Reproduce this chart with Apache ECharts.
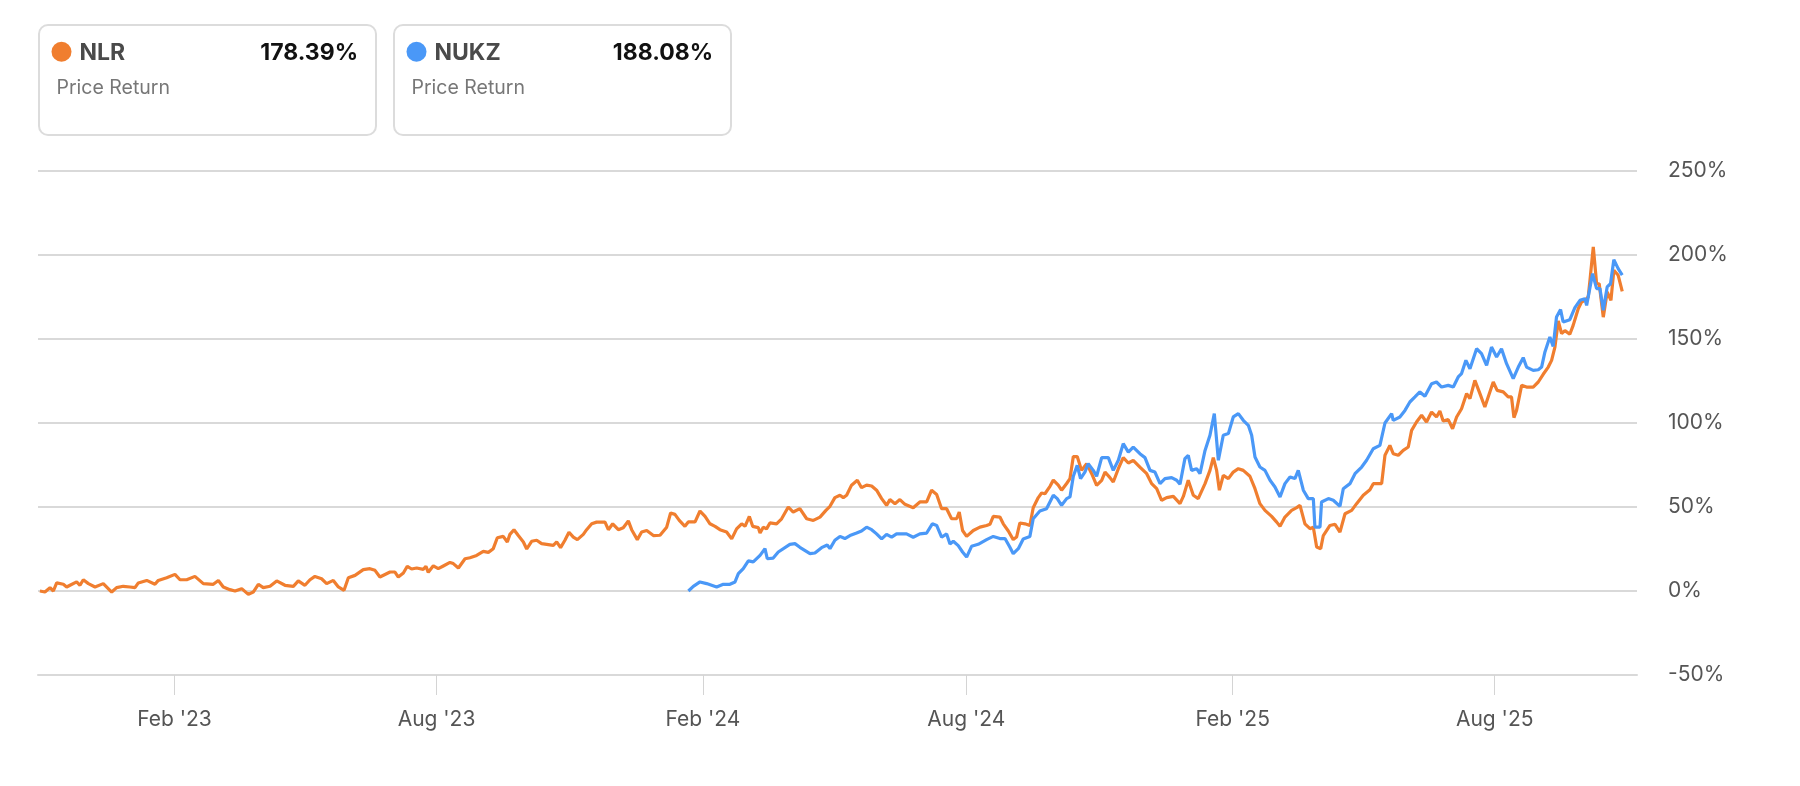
<!DOCTYPE html>
<html>
<head>
<meta charset="utf-8">
<script src="https://cdn.jsdelivr.net/npm/echarts@6/dist/echarts.min.js"></script>
<style>
  html, body { margin: 0; padding: 0; background: #ffffff; }
  #chart { width: 1800px; height: 786px; }
</style>
</head>
<body>
<div id="chart"></div>
<script>
// ---- data ----
const seriesNames = ['NLR', 'NUKZ'];
const seriesColors = ['#f07e2f', '#4a98f7'];
const finalReturns = ['178.39%', '188.08%'];
const subtitle = 'Price Return';

const dayZero = '2022-10-31';

const nlrDays = [
  0, 3.5, 7, 9.3, 11.6, 16.2, 18.5, 20.8, 25.4, 27.7,
  30, 33.5, 38.1, 43.8, 49.6, 53, 57.6, 62.2, 65.7, 68,
  73.8, 79.5, 81.8, 87.6, 93.3, 96.8, 101.4, 107.1, 112.9, 119.8,
  123.3, 126.7, 131.3, 134.8, 139.4, 144, 147.4, 150.9, 154.3, 159,
  163.6, 169.3, 175.1, 178.5, 183.1, 186.6, 190, 194.6, 198.1, 202.7,
  206.2, 210.1, 213.1, 217.7, 223.4, 228, 231.5, 234.9, 241.9, 245.3,
  247.6, 251.1, 253.8, 256.8, 260.3, 264.9, 266.7, 268.3, 271.8, 275.2,
  278.7, 283.3, 285.6, 289.1, 293.7, 297.1, 301.7, 306.3, 309.8, 313.2,
  316, 320.1, 322.9, 324.7, 327.5, 330.5, 334, 336.3, 339.7, 343.2,
  346.6, 350.1, 354.7, 357, 359.7, 362.7, 365.5, 368.5, 371.3, 375.4,
  377.7, 381.2, 384.6, 390.4, 392.7, 395.7, 399.6, 403, 406.5, 408.8,
  412.7, 415.7, 419.2, 423.8, 428.4, 433, 435.7, 438.7, 441.7, 445.6,
  447.9, 452.6, 456, 459.5, 462.9, 466.4, 469.8, 474.4, 477.9, 481.3,
  484.8, 487.1, 490.1, 492.4, 496.3, 497.5, 499.7, 502, 504.3, 508.9,
  512.4, 517, 520.4, 525, 529.7, 534.3, 538.9, 543, 545.8, 549.2,
  552.7, 555, 557.3, 560.7, 564.7, 567.6, 571.1, 574.6, 578, 581.5,
  584.9, 587.2, 590.7, 594.1, 597.6, 603.3, 607.9, 612.6, 616, 619.5,
  622.9, 626.4, 629.8, 633.3, 635.1, 637.4, 640.2, 644.8, 649.4, 654,
  656.3, 658.6, 663.2, 665.5, 669, 672.4, 674.7, 677, 680.5, 683.9,
  686.2, 689.7, 692, 694.3, 697.8, 700.1, 703.5, 705.8, 709.3, 711.6,
  713.9, 716.6, 719.6, 723.1, 726.6, 730, 733.5, 735.8, 739.2, 741.5,
  745, 748.4, 751.9, 755.3, 759.9, 764.6, 768, 771.5, 774.9, 778.4,
  783, 787.6, 789.9, 793.3, 796.8, 800.2, 804.9, 808.3, 810.6, 812.9,
  814.8, 817.5, 821, 824.4, 827.9, 831.3, 835.9, 839.4, 842.8, 846.3,
  850.9, 854.4, 856.7, 860.1, 864.7, 868.2, 870.5, 873.9, 877.4, 879.7,
  882, 884.8, 886.6, 891.2, 894.7, 898.1, 901.6, 906.2, 909.6, 914.2,
  918.8, 921.1, 926.9, 929.2, 932.6, 934.9, 938.4, 941.8, 945.3, 947.6,
  951, 954.5, 957.9, 961.4, 964.8, 967.1, 969.4, 972.9, 975.9, 978.7,
  982.1, 985.6, 987.9, 991.3, 994.8, 998.2, 1000.5, 1004, 1006.7, 1010.9,
  1014.3, 1016.6, 1018.3, 1020.1, 1023.6, 1027, 1031.6, 1035.1, 1038.5, 1042,
  1044.3, 1046.6, 1048.9, 1051.2, 1053.5, 1056.9, 1059.2, 1062.7, 1065, 1067.3,
  1069.6, 1070.8, 1073.1, 1075.4, 1077.2, 1080, 1082.7, 1085.3, 1087.3, 1090.3,
  1093.1
];
const nlrValues = [
  0, -0.6, 2, 0, 4.8, 4, 2.4, 3.4, 5.4, 3.4,
  6.7, 4.4, 2.4, 4.4, -0.6, 2, 2.8, 2.4, 2, 4.8,
  6.3, 4, 6.3, 7.9, 9.9, 6.7, 6.7, 8.7, 4.4, 4,
  6.3, 2.4, 0.8, 0, 1.4, -2, -0.6, 4, 2, 2.8,
  6, 3.4, 2.8, 6, 3.4, 6.7, 8.7, 7.3, 4.4, 6.3,
  2.4, 0.4, 7.9, 9.3, 12.7, 13.3, 12.3, 8.3, 11.3, 11.3,
  8.3, 10.7, 14.7, 13.1, 13.7, 12.9, 14.7, 11.1, 15, 13.3,
  14.9, 17, 16.3, 13.7, 19.2, 19.8, 21.2, 23.6, 23, 25.2,
  31.7, 32.5, 29.2, 33.7, 36.5, 33, 29.2, 25, 29.6, 30.2,
  28.2, 27.8, 27.2, 29.2, 25.8, 30.2, 35, 32.1, 30.6, 33.7,
  36.5, 40, 41, 41, 36.5, 40, 36.5, 37.7, 41.7, 36.5,
  30.6, 35.1, 36, 33, 33.2, 38, 46.4, 45.6, 42, 38.5,
  41.1, 41.1, 47.6, 44.4, 40, 38.5, 36.5, 35.1, 31, 37,
  40, 38.5, 44.4, 38.5, 37.7, 34.5, 38, 37, 40.5, 40,
  43, 50, 47, 49, 43, 42, 44, 48, 50.4, 55.6,
  57, 55.6, 57, 63, 65.9, 61.5, 63, 62.5, 60, 55,
  51, 54.4, 52, 54.4, 51.6, 49.6, 53, 53, 60, 57.5,
  49, 49, 43, 43, 47, 36, 32.5, 36, 38, 39,
  39.7, 44.4, 44, 40, 35.7, 30.6, 32.1, 40.5, 40, 39,
  49.6, 55.6, 58.3, 57.9, 62.3, 66, 63, 60, 64, 66.9,
  80, 80, 71.8, 75.8, 69.8, 62.9, 65.9, 70.8, 67.5, 64.9,
  72.8, 79.4, 76.2, 77.8, 73.8, 69.8, 63.9, 60.9, 54, 55.6,
  56.3, 52, 56.3, 65.9, 57, 55, 63.9, 71.8, 79.4, 71.8,
  60, 68.8, 66.9, 70.8, 72.8, 71.8, 68.3, 60.9, 52, 48,
  44.4, 41, 38.5, 44, 48, 49.6, 51, 40, 37.1, 38,
  26.2, 25.2, 33, 39, 39.7, 35, 46, 48, 52, 57,
  60.3, 63.9, 63.9, 80.8, 86.7, 81.7, 80.8, 83.7, 85.7, 95.6,
  100.6, 104.6, 100.6, 106.5, 103.6, 107.1, 101.2, 102, 96.6, 103.6,
  108.5, 117.5, 114.5, 125.4, 117.5, 109.5, 115.5, 124.4, 119.4, 118.5,
  115.5, 115.5, 103.2, 107.5, 122.4, 121.4, 121.4, 124.4, 129, 133.3,
  137.3, 145.2, 160.7, 153.2, 155, 152.8, 158.1, 168, 172, 173,
  175, 184.9, 204.8, 182.9, 182.9, 163, 178, 173, 190.9, 187.9,
  178.39
];

const nukzDays = [
  448, 451.4, 456, 460.6, 467.5, 472.1, 476.7, 480.2, 482.5, 485.9,
  489.4, 492.8, 497.5, 500.9, 502.5, 506.6, 510.1, 518.1, 521.6, 525,
  532, 535.4, 540, 543.9, 545.8, 549.2, 552.7, 556.1, 559.6, 564.2,
  567.6, 571.1, 574.6, 578, 581.5, 584.9, 588.4, 591.8, 598.7, 603.3,
  607.9, 612.6, 616.5, 619.5, 622.9, 626.4, 628.7, 631, 634.4, 637.4,
  640.2, 643.6, 648.2, 654, 658.6, 663.2, 666.7, 670.1, 672.4, 675.9,
  679.3, 683.9, 686.2, 690.8, 695.4, 700.1, 702.8, 705.8, 709.3, 711.6,
  713.9, 716.6, 718.9, 721.9, 724.2, 727.7, 730, 733.5, 738.1, 741.5,
  745, 748.4, 751.9, 755.3, 759.9, 763.4, 766.9, 770.3, 773.8, 777.2,
  781.8, 785.3, 787.6, 791, 793.3, 795.6, 799.1, 801.4, 804.9, 808.3,
  811.3, 814.1, 817.5, 821, 824.4, 827.9, 831.3, 834.8, 837.1, 839.4,
  842.8, 846.3, 849.8, 853.2, 856.7, 860.1, 863.6, 867, 869.3, 872.8,
  876.2, 879.7, 880.8, 884.3, 885.4, 890.1, 893.5, 898.1, 900.4, 905,
  908.5, 913.1, 916.5, 921.1, 925.7, 929.2, 933.8, 934.9, 939.5, 943,
  946.4, 949.9, 953.3, 956.8, 961.4, 964.8, 968.3, 972.9, 976.4, 979.8,
  982.1, 985.1, 987.9, 992.5, 995.9, 999.4, 1002.8, 1006.3, 1009.7, 1013.2,
  1017.8, 1021.3, 1024.7, 1027, 1031.6, 1035.1, 1037.4, 1039.7, 1043.1, 1045.4,
  1047.7, 1050.5, 1052.3, 1056.9, 1060.4, 1063.9, 1067.3, 1068.5, 1072.6, 1075.4,
  1077.7, 1080, 1082.7, 1085, 1087.3, 1090.3, 1093.1
];
const nukzValues = [
  0, 2.8, 5.4, 4.4, 2.4, 4, 4, 5.4, 10.3, 13.3,
  17.9, 17.3, 21.2, 25.2, 19.2, 19.6, 23.2, 27.8, 28.2, 26,
  22.2, 22.6, 25.8, 27.4, 25.2, 30.2, 32.5, 31.2, 33, 34.5,
  35.7, 38, 36.5, 34, 31, 33.7, 32.1, 34, 34, 32,
  34, 34.5, 40, 39, 32, 34, 28, 29.6, 27, 23.2,
  20.2, 26.6, 27.8, 30.6, 32.5, 31.2, 31.2, 26, 22.2, 25.2,
  31, 32.5, 43, 47.6, 49, 57, 55, 51, 55, 56,
  68.3, 74.8, 66.9, 70.8, 75.8, 71.8, 68.3, 79.4, 79.4, 71.8,
  77.8, 87.7, 82.7, 85.7, 81.7, 79.4, 71.8, 70.8, 63.9, 66.9,
  67.5, 65.9, 63.5, 78.8, 80.8, 71.8, 72.8, 69.8, 83.7, 92.7,
  105.6, 77.8, 92.7, 93.7, 103.6, 105.6, 101.6, 98.6, 92.7, 79.8,
  73.8, 71.8, 65.9, 61.9, 56, 63.9, 67.9, 66.9, 71.8, 60,
  55, 55, 38, 38, 53, 55, 54, 50.4, 60.9, 63.9,
  69.8, 73.8, 77.8, 84.7, 86.7, 100, 105.6, 101.6, 103.6, 107.5,
  112.5, 115.5, 118.5, 115.9, 123.4, 124.4, 121.4, 122.4, 121.4, 127.4,
  129.4, 137.3, 132.3, 144.2, 141.3, 134.3, 145.2, 139.3, 144.2, 135.3,
  126.4, 133.3, 138.9, 133.3, 131.3, 131.7, 133.3, 142.3, 151.2, 145.6,
  163.1, 167.5, 160.1, 161.5, 168.7, 173, 174, 170, 188.9, 180,
  180, 167.1, 181, 182.9, 197.2, 191.9, 188.08
];

const xTickDates = ['2023-02-01', '2023-08-01', '2024-02-01', '2024-08-01', '2025-02-01', '2025-08-01'];
const xTickLabels = ["Feb '23", "Aug '23", "Feb '24", "Aug '24", "Feb '25", "Aug '25"];
const yMin = -50, yMax = 250, yStep = 50;

// ---- build ----
const DAY = 86400000;
function ts(s) { const p = s.split('-').map(Number); return Date.UTC(p[0], p[1] - 1, p[2]); }
const t0 = ts(dayZero);
const nlrData = nlrValues.map((v, i) => [t0 + nlrDays[i] * DAY, v]);
const nukzData = nukzValues.map((v, i) => [t0 + nukzDays[i] * DAY, v]);

const tickTs = xTickDates.map(ts);
const axisMin = ts('2023-02-01') - 94.3 * DAY;
const axisMax = ts('2025-08-01') + 98.3 * DAY;

const FONT = 'Inter, "Liberation Sans", Arial, sans-serif';

function card(x, idx) {
  const w = 337, h = 110, y = 25;
  return [
    { type: 'rect', shape: { x: x, y: y, width: w, height: h, r: 9 },
      style: { fill: '#ffffff', stroke: '#dcdcdc', lineWidth: 2 }, z: 10 },
    { type: 'circle', shape: { cx: x + 22.5, cy: 51.7, r: 10 },
      style: { fill: seriesColors[idx] }, z: 11 },
    { type: 'text', x: x + 40.5, y: 53, z: 11,
      style: { text: seriesNames[idx], font: 'bold 23px ' + FONT, fill: '#4a4a4a', verticalAlign: 'middle', align: 'left' } },
    { type: 'text', x: x + w - 18, y: 53, z: 11,
      style: { text: finalReturns[idx], font: 'bold 23px ' + FONT, fill: '#111111', verticalAlign: 'middle', align: 'right' } },
    { type: 'text', x: x + 17.5, y: 88, z: 11,
      style: { text: subtitle, font: '19.5px ' + FONT, fill: '#777777', verticalAlign: 'middle', align: 'left' } }
  ];
}

const chart = echarts.init(document.getElementById('chart'), null, { renderer: 'canvas' });
chart.setOption({
  animation: false,
  backgroundColor: '#ffffff',
  grid: { left: 38, right: 163, top: 171, bottom: 111, containLabel: false },
  graphic: card(39, 0).concat(card(394, 1)),
  xAxis: {
    type: 'value',
    min: axisMin,
    max: axisMax,
    axisLine: { show: true, onZero: false, lineStyle: { color: '#d9d9d9', width: 2 } },
    axisTick: { show: true, customValues: tickTs, length: 20, lineStyle: { color: '#d4d4d4', width: 1 } },
    axisLabel: {
      customValues: tickTs,
      showMinLabel: true, showMaxLabel: true, hideOverlap: false,
      formatter: function (v) {
        const i = tickTs.findIndex(t => Math.abs(t - v) < DAY);
        return i >= 0 ? xTickLabels[i] : '';
      },
      color: '#555555', fontSize: 21, fontFamily: FONT, margin: 34
    },
    splitLine: { show: false }
  },
  yAxis: {
    type: 'value',
    position: 'right',
    min: yMin, max: yMax, interval: yStep,
    axisLine: { show: false },
    axisTick: { show: false },
    axisLabel: { formatter: '{value}%', color: '#555555', fontSize: 21, fontFamily: FONT, margin: 31 },
    splitLine: { lineStyle: { color: '#d9d9d9', width: 2 } }
  },
  series: [
    { name: seriesNames[0], type: 'line', data: nlrData, showSymbol: false, symbol: 'none',
      lineStyle: { color: seriesColors[0], width: 3.2 }, itemStyle: { color: seriesColors[0] }, z: 3 },
    { name: seriesNames[1], type: 'line', data: nukzData, showSymbol: false, symbol: 'none',
      lineStyle: { color: seriesColors[1], width: 3.2 }, itemStyle: { color: seriesColors[1] }, z: 4 }
  ]
});
</script>
</body>
</html>
